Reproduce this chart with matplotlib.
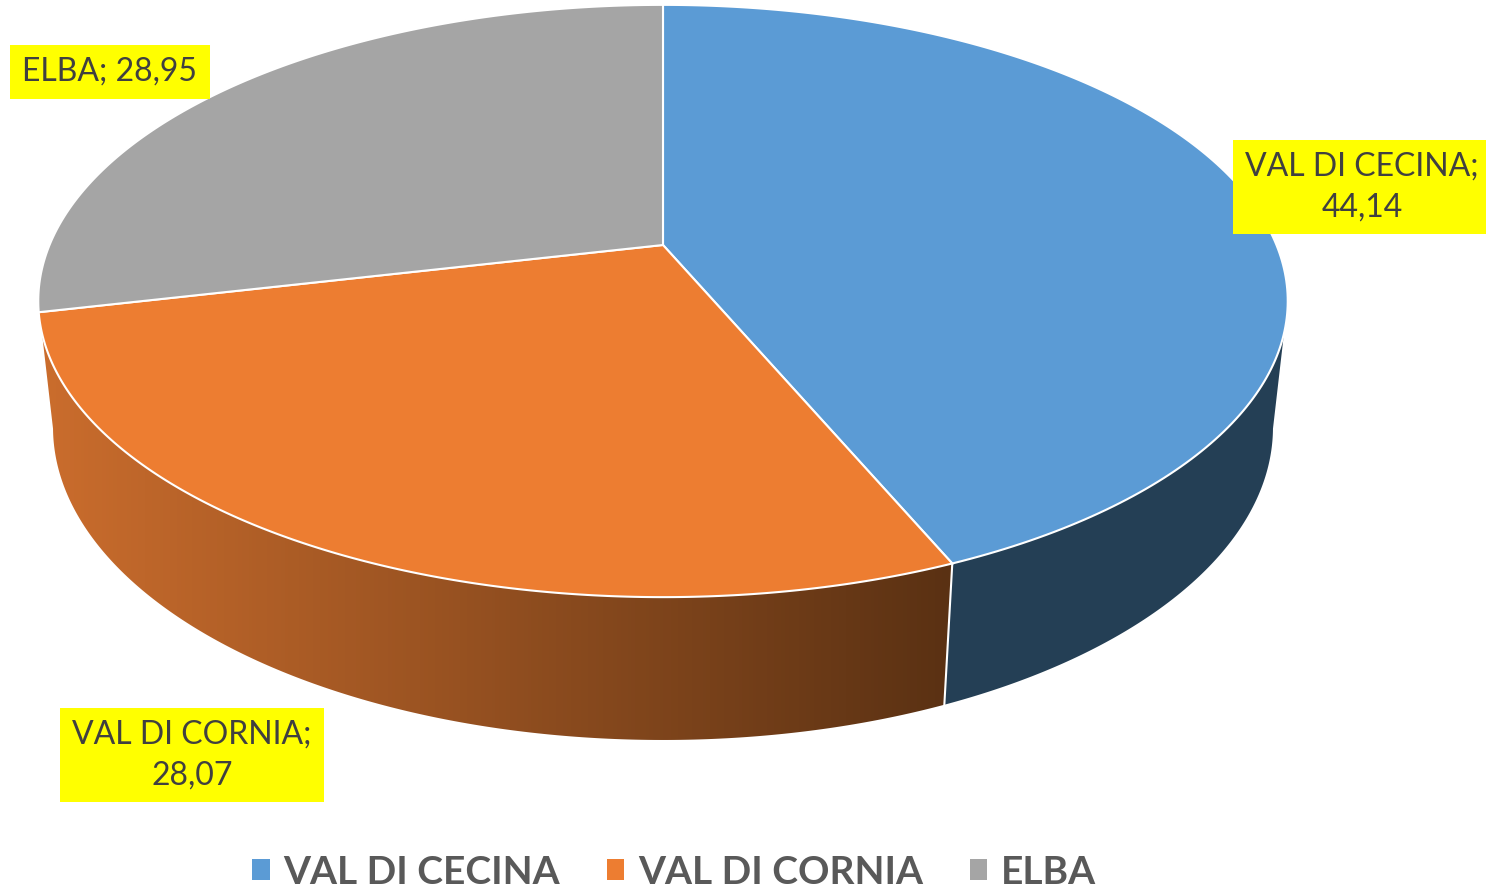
"""3D pie chart: distribution across VAL DI CECINA, VAL DI CORNIA and ELBA."""

import numpy as np
import matplotlib
matplotlib.use("Agg")
import matplotlib.pyplot as plt
from matplotlib.patches import Polygon, Patch
from matplotlib.colors import LinearSegmentedColormap

plt.rcParams["font.family"] = ["Lato", "DejaVu Sans"]

# data
categories = ["VAL DI CECINA", "VAL DI CORNIA", "ELBA"]
values = [44.14, 28.07, 28.95]
label_texts = ["VAL DI CECINA;\n44,14", "VAL DI CORNIA;\n28,07", "ELBA; 28,95"]

# styling
top_colors = ["#5B9BD5", "#ED7D31", "#A5A5A5"]
side_colors = ["#243F55", ("#CB6D2D", "#5A3113"), "#7A7A7A"]
label_pos = [(1362, 187), (192, 755), (110, 72)]
text_color = "#404040"

# projection of the pie (camera elevation, distance, scale, thickness)
CX, CY = 663, 245
F = 2871.0
L = 4.68
ELEV = np.radians(27.74)
THICK = 0.2346
sa, ca = np.sin(ELEV), np.cos(ELEV)


def project(alpha, z=0.0):
    """alpha: clockwise angle from the far point (radians); z: height (0 top)."""
    x = np.sin(alpha)
    y = -np.cos(alpha)
    depth = L - y * ca - z * sa
    sx = CX + F * x / depth
    sy = CY - F * (-y * sa + z * ca) / depth
    return sx, sy


def rim(a0, a1, z=0.0, n=200):
    al = np.linspace(a0, a1, n)
    return np.column_stack(project(al, z))


fig = plt.figure(figsize=(14.86, 8.93), dpi=100)
ax = fig.add_axes([0, 0, 1, 1])
ax.set_xlim(0, 1486)
ax.set_ylim(893, 0)
ax.axis("off")

fracs = np.array(values) / np.sum(values)
bounds = np.concatenate([[0], np.cumsum(fracs)]) * 2 * np.pi

# silhouette angles where the side turns away from the viewer
a_sil = np.arccos(-ca / L)
vis0, vis1 = a_sil, 2 * np.pi - a_sil
edge_tol = np.radians(5)

# sides
for i in range(len(values)):
    a0, a1 = max(bounds[i], vis0), min(bounds[i + 1], vis1)
    if a1 - a0 < edge_tol:
        continue
    # slice ending right at the silhouette takes the last sliver of side
    if vis1 - a1 < edge_tol:
        a1 = vis1
    if a0 - vis0 < edge_tol:
        a0 = vis0
    top = rim(a0, a1, 0.0)
    bot = rim(a0, a1, -THICK)[::-1]
    pts = np.vstack([top, bot])
    col = side_colors[i]
    if isinstance(col, tuple):
        poly = Polygon(pts, closed=True, facecolor="none", edgecolor="none")
        ax.add_patch(poly)
        cmap = LinearSegmentedColormap.from_list("side", list(col))
        grad = np.linspace(0, 1, 256)[None, :]
        im = ax.imshow(grad, cmap=cmap, aspect="auto",
                       extent=[pts[:, 0].min(), pts[:, 0].max(),
                               pts[:, 1].max(), pts[:, 1].min()],
                       zorder=1)
        im.set_clip_path(poly)
    else:
        ax.add_patch(Polygon(pts, closed=True, facecolor=col,
                             edgecolor="none", zorder=1))

# white seams on the side between slices
for b in bounds[1:-1]:
    if vis0 + edge_tol < b < vis1 - edge_tol:
        x0, y0 = project(b, 0.0)
        x1, y1 = project(b, -THICK)
        ax.plot([x0, x1], [y0, y1], color="white", lw=1.5, zorder=2)

# top face
for i in range(len(values)):
    arc = rim(bounds[i], bounds[i + 1], 0.0)
    pts = np.vstack([[CX, CY], arc])
    ax.add_patch(Polygon(pts, closed=True, facecolor=top_colors[i],
                         edgecolor="white", lw=1.5, joinstyle="miter", zorder=3))

# data labels
for txt, (tx, ty) in zip(label_texts, label_pos):
    ax.text(tx, ty, txt, ha="center", va="center", fontsize=23,
            color=text_color, linespacing=1.42, zorder=5,
            bbox=dict(boxstyle="square,pad=0.38", fc="#FFFF00", ec="none"))

# legend
handles = [Patch(facecolor=c) for c in top_colors]
fig.legend(handles, categories, loc="center", bbox_to_anchor=(0.4536, 0.0235),
           ncol=3, frameon=False, prop={"size": 28, "weight": "bold"},
           labelcolor="#595959", handlelength=0.45, handleheight=0.45,
           handletextpad=0.35, columnspacing=1.2)

fig.savefig("out.png", dpi=100)
